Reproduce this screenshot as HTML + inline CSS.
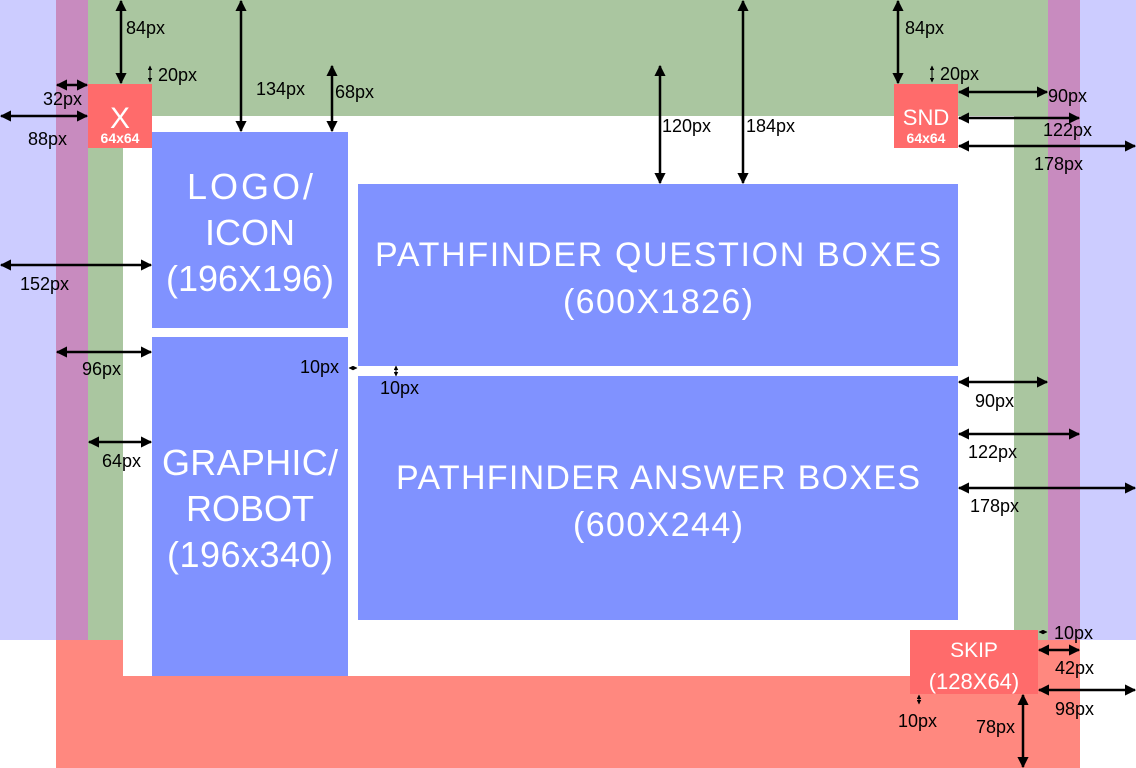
<!DOCTYPE html>
<html><head><meta charset="utf-8"><style>
html,body{margin:0;padding:0;background:#fff;}
svg{display:block;}
.l{font-family:"Liberation Sans",sans-serif;font-size:18px;fill:#000;}
.b{font-family:"Liberation Sans",sans-serif;fill:#fff;text-anchor:middle;}
</style></head><body>
<svg width="1136" height="768" viewBox="0 0 1136 768" xmlns="http://www.w3.org/2000/svg">
<defs>
<marker id="a" viewBox="0 0 10 10" refX="9" refY="5" markerWidth="4.5" markerHeight="4.5" orient="auto-start-reverse"><path d="M0,0 L10,5 L0,10 z" fill="#000"/></marker>
</defs>
<rect x="0" y="0" width="56" height="640" fill="#ccccff"/>
<rect x="1080" y="0" width="56" height="640" fill="#ccccff"/>
<rect x="56" y="0" width="32" height="640" fill="#c88bbf"/>
<rect x="1048" y="0" width="32" height="640" fill="#c88bbf"/>
<rect x="88" y="0" width="960" height="640" fill="#aac6a0"/>
<rect x="56" y="640" width="1024" height="128" fill="#ff887f"/>
<rect x="123" y="116" width="891" height="560" fill="#fff"/>
<rect x="152" y="132" width="196" height="196" fill="#8092ff"/>
<rect x="152" y="337" width="196" height="339" fill="#8092ff"/>
<rect x="358" y="184" width="600" height="182" fill="#8092ff"/>
<rect x="358" y="376" width="600" height="244" fill="#8092ff"/>
<rect x="88" y="84" width="64" height="64" fill="#ff6b6b"/>
<rect x="894" y="84" width="64" height="64" fill="#ff6b6b"/>
<rect x="910" y="630" width="128" height="64" fill="#ff6b6b"/>
<text class="b" x="120" y="128" font-size="30">X</text>
<text class="b" x="120" y="143" font-size="14" font-weight="bold">64x64</text>
<text class="b" x="926" y="125" font-size="22">SND</text>
<text class="b" x="926" y="143" font-size="14" font-weight="bold">64x64</text>
<text class="b" x="974" y="657" font-size="21">SKIP</text>
<text class="b" x="974" y="689" font-size="22">(128X64)</text>
<text class="b" x="250" y="199" font-size="36" textLength="126">LOGO/</text>
<text class="b" x="250" y="245" font-size="36">ICON</text>
<text class="b" x="250" y="291" font-size="36" textLength="168">(196X196)</text>
<text class="b" x="250" y="475" font-size="36" textLength="176">GRAPHIC/</text>
<text class="b" x="250" y="521" font-size="36">ROBOT</text>
<text class="b" x="250" y="567" font-size="36" textLength="166">(196x340)</text>
<text class="b" x="658" y="266" font-size="34" textLength="566">PATHFINDER QUESTION BOXES</text>
<text class="b" x="658" y="313" font-size="34" textLength="190">(600X1826)</text>
<text class="b" x="658" y="489" font-size="34" textLength="524">PATHFINDER ANSWER BOXES</text>
<text class="b" x="658" y="536" font-size="34" textLength="170">(600X244)</text>
<g stroke="#000" stroke-width="2.5" fill="none" marker-start="url(#a)" marker-end="url(#a)">
<line x1="121" y1="1" x2="121" y2="83"/>
<line x1="241" y1="1" x2="241" y2="131"/>
<line x1="332" y1="66" x2="332" y2="131"/>
<line x1="660" y1="66" x2="660" y2="183"/>
<line x1="743" y1="1" x2="743" y2="183"/>
<line x1="898" y1="1" x2="898" y2="83"/>
<line x1="57" y1="85" x2="87" y2="85"/>
<line x1="1" y1="116" x2="87" y2="116"/>
<line x1="1" y1="265" x2="151" y2="265"/>
<line x1="57" y1="352" x2="151" y2="352"/>
<line x1="89" y1="442" x2="151" y2="442"/>
<line x1="959" y1="92" x2="1047" y2="92"/>
<line x1="959" y1="118" x2="1079" y2="118"/>
<line x1="959" y1="146" x2="1135" y2="146"/>
<line x1="959" y1="382" x2="1047" y2="382"/>
<line x1="959" y1="434" x2="1079" y2="434"/>
<line x1="959" y1="488" x2="1135" y2="488"/>
<line x1="1039" y1="650" x2="1079" y2="650"/>
<line x1="1039" y1="690" x2="1135" y2="690"/>
<line x1="1023" y1="695" x2="1023" y2="767"/>
</g>
<g stroke="#000" stroke-width="1" fill="none" marker-start="url(#a)" marker-end="url(#a)">
<line x1="150" y1="66" x2="150" y2="82"/>
<line x1="932" y1="66" x2="932" y2="82"/>
<line x1="349" y1="368" x2="357" y2="368"/>
<line x1="396" y1="366" x2="396" y2="376"/>
<line x1="1039" y1="632" x2="1047" y2="632"/>
<line x1="919" y1="695" x2="919" y2="704"/>
</g>
<text class="l" x="126" y="34">84px</text>
<text class="l" x="158" y="81">20px</text>
<text class="l" x="43" y="105">32px</text>
<text class="l" x="28" y="145">88px</text>
<text class="l" x="256" y="95">134px</text>
<text class="l" x="335" y="98">68px</text>
<text class="l" x="662" y="132">120px</text>
<text class="l" x="746" y="132">184px</text>
<text class="l" x="905" y="34">84px</text>
<text class="l" x="940" y="80">20px</text>
<text class="l" x="1048" y="102">90px</text>
<text class="l" x="1043" y="136">122px</text>
<text class="l" x="1034" y="170">178px</text>
<text class="l" x="20" y="290">152px</text>
<text class="l" x="82" y="375">96px</text>
<text class="l" x="102" y="467">64px</text>
<text class="l" x="300" y="373">10px</text>
<text class="l" x="380" y="394">10px</text>
<text class="l" x="975" y="407">90px</text>
<text class="l" x="968" y="458">122px</text>
<text class="l" x="970" y="512">178px</text>
<text class="l" x="1054" y="639">10px</text>
<text class="l" x="1055" y="674">42px</text>
<text class="l" x="1055" y="715">98px</text>
<text class="l" x="898" y="727">10px</text>
<text class="l" x="976" y="733">78px</text>
</svg>
</body></html>
